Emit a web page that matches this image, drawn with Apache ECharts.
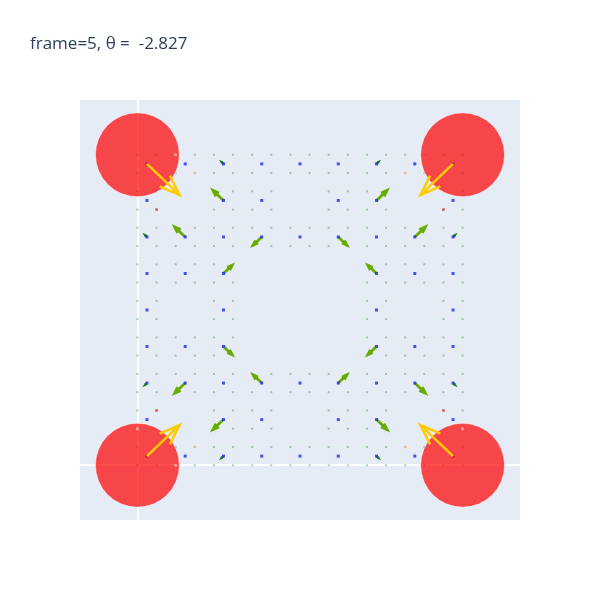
<!DOCTYPE html>
<html><head><meta charset="utf-8">
<script src="https://cdn.jsdelivr.net/npm/echarts@6/dist/echarts.min.js"></script>
<style>html,body{margin:0;padding:0;background:#fff}#c{width:600px;height:600px}</style>
</head><body><div id="c"></div>
<script>
// ---------- data ----------
const titleText = 'frame=5, θ =  -2.827';
const xRange = [-3, 20];
const yRange = [-3, 20];

// lattice atoms (integer sites): row y values and the x values present in each row
const atomRowY = [17, 16, 15, 14, 13, 12, 11, 10, 9, 8, 7, 6, 5, 4, 3, 2, 1, 0];
const atomRowX = [
  [0,1,2,3,4,5,6,7,8,9,10,11,12,13,14,15,16,17],
  [0,1,2,3,4,5,6,7,8,9,10,11,12,13,14,15,16,17],
  [0,1,4,5,6,7,10,11,12,13,16,17],
  [0,1,4,5,6,7,10,11,12,13,16,17],
  [0,1,2,3,4,5,6,7,8,9,10,11,12,13,14,15,16,17],
  [0,1,2,3,4,5,6,7,8,9,10,11,12,13,14,15,16,17],
  [0,1,2,3,4,5,12,13,14,15,16,17],
  [0,1,2,3,4,5,12,13,14,15,16,17],
  [0,1,4,5,12,13,16,17],
  [0,1,4,5,12,13,16,17],
  [0,1,2,3,4,5,12,13,14,15,16,17],
  [0,1,2,3,4,5,12,13,14,15,16,17],
  [0,1,2,3,4,5,6,7,8,9,10,11,12,13,14,15,16,17],
  [0,1,2,3,4,5,6,7,8,9,10,11,12,13,14,15,16,17],
  [0,1,4,5,6,7,10,11,12,13,16,17],
  [0,1,4,5,6,7,10,11,12,13,16,17],
  [0,1,2,3,4,5,6,7,8,9,10,11,12,13,14,15,16,17],
  [0,1,2,3,4,5,6,7,8,9,10,11,12,13,14,15,16,17]
];

// cell-centre sites (blue)
const siteRowY = [16.5, 14.5, 12.5, 10.5, 8.5, 6.5, 4.5, 2.5, 0.5];
const siteRowX = [
  [0.5,2.5,4.5,6.5,8.5,10.5,12.5,14.5,16.5],
  [0.5,4.5,6.5,10.5,12.5,16.5],
  [0.5,2.5,4.5,6.5,8.5,10.5,12.5,14.5,16.5],
  [0.5,2.5,4.5,12.5,14.5,16.5],
  [0.5,4.5,12.5,16.5],
  [0.5,2.5,4.5,12.5,14.5,16.5],
  [0.5,2.5,4.5,6.5,8.5,10.5,12.5,14.5,16.5],
  [0.5,4.5,6.5,10.5,12.5,16.5],
  [0.5,2.5,4.5,6.5,8.5,10.5,12.5,14.5,16.5]
];

// specially coloured atoms
const redAtoms = [[1,14],[16,14],[1,3],[16,3]];
const pinkAtoms = [[3,16],[14,16],[3,1],[14,1]];
const paleAtoms = [[2,17],[0,2],[2,0],[17,2]];

// displacement arrows [x, y, u, v]
const bigArrows = [
  [4.5,14.5,-0.55,0.55],[2.5,12.5,-0.55,0.55],[6.5,12.5,-0.45,-0.45],[4.5,10.5,0.45,0.45],
  [12.5,14.5,0.55,0.55],[14.5,12.5,0.55,0.55],[10.5,12.5,0.45,-0.45],[12.5,10.5,-0.45,0.45],
  [4.5,2.5,-0.55,-0.55],[2.5,4.5,-0.55,-0.55],[6.5,4.5,-0.45,0.45],[4.5,6.5,0.45,-0.45],
  [12.5,2.5,0.55,-0.55],[14.5,4.5,0.55,-0.55],[10.5,4.5,0.45,0.45],[12.5,6.5,-0.45,-0.45]
];
const smallArrows = [
  [4.5,16.5,-0.11,0.11],[0.5,12.5,-0.11,0.11],
  [12.5,16.5,0.11,0.11],[16.5,12.5,0.11,0.11],
  [4.5,0.5,-0.11,-0.11],[0.5,4.5,-0.11,-0.11],
  [12.5,0.5,0.11,-0.11],[16.5,4.5,0.11,-0.11]
];

// probes (red discs) and force arrows (yellow)
const probeX = [0, 17, 0, 17];
const probeY = [17, 17, 0, 0];
const forceArrows = [
  [0.5,16.5,1.7,-1.7],[16.5,16.5,-1.7,-1.7],[0.5,0.5,1.7,1.7],[16.5,0.5,-1.7,1.7]
];

// ---------- build ----------
const atomData = [];
atomRowY.forEach((y, r) => atomRowX[r].forEach(x => atomData.push([x, y])));
const siteData = [];
siteRowY.forEach((y, r) => siteRowX[r].forEach(x => siteData.push([x, y])));
const probeData = probeX.map((x, i) => [x, probeY[i]]);

function arrowRender(color, width, barbRatio) {
  return function (params, api) {
    const x = api.value(0), y = api.value(1), u = api.value(2), v = api.value(3);
    const p0 = api.coord([x, y]);
    const p1 = api.coord([x + u, y + v]);
    const dx = p1[0] - p0[0], dy = p1[1] - p0[1];
    const len = Math.hypot(dx, dy);
    const ang = Math.atan2(dy, dx);
    const bl = len * barbRatio, a = Math.PI / 9;
    const b1 = [p1[0] - bl * Math.cos(ang - a), p1[1] - bl * Math.sin(ang - a)];
    const b2 = [p1[0] - bl * Math.cos(ang + a), p1[1] - bl * Math.sin(ang + a)];
    return {
      type: 'group',
      children: [
        { type: 'polyline', shape: { points: [p0, p1] }, style: { stroke: color, lineWidth: width, fill: null } },
        { type: 'polyline', shape: { points: [b1, p1, b2] }, style: { stroke: color, lineWidth: width, fill: null } }
      ]
    };
  };
}

const axisCommon = {
  type: 'value',
  axisTick: { show: false },
  axisLabel: { show: false },
  splitLine: { show: false },
  axisLine: { show: true, onZero: true, lineStyle: { color: '#ffffff', width: 2 } }
};

const chart = echarts.init(document.getElementById('c'), null, { renderer: 'canvas' });
chart.setOption({
  animation: false,
  backgroundColor: '#ffffff',
  title: {
    text: titleText, left: 30, top: 36, padding: 0,
    textStyle: { fontFamily: 'Open Sans', fontSize: 17, fontWeight: 'normal', color: '#2a3f5f' }
  },
  grid: { left: 80, top: 100, width: 440, height: 420, show: true, backgroundColor: '#E5ECF6', borderWidth: 0 },
  xAxis: Object.assign({ min: xRange[0], max: xRange[1] }, axisCommon),
  yAxis: Object.assign({ min: yRange[0], max: yRange[1] }, axisCommon),
  series: [
    { type: 'scatter', data: atomData, symbol: 'rect', symbolSize: 2, z: 2, silent: true,
      itemStyle: { color: 'rgba(40,145,40,0.5)' } },
    { type: 'scatter', data: redAtoms, symbol: 'rect', symbolSize: 2.5, z: 3, silent: true,
      itemStyle: { color: '#e8382a' } },
    { type: 'scatter', data: pinkAtoms, symbol: 'rect', symbolSize: 2.5, z: 3, silent: true,
      itemStyle: { color: '#f4b49c' } },
    { type: 'custom', data: bigArrows, z: 4, silent: true, encode: { x: 0, y: 1 },
      renderItem: arrowRender('rgb(104,172,0)', 2.8, 0.45) },
    { type: 'custom', data: smallArrows, z: 4, silent: true, encode: { x: 0, y: 1 },
      renderItem: arrowRender('rgb(30,130,30)', 2.2, 0.5) },
    { type: 'scatter', data: siteData, symbol: 'rect', symbolSize: 3, z: 5, silent: true,
      itemStyle: { color: '#1a2cf0' } },
    { type: 'scatter', data: probeData, symbol: 'circle', symbolSize: 84, z: 6, silent: true,
      itemStyle: { color: 'red', opacity: 0.7, borderColor: '#ffffff', borderWidth: 0.8 } },
    { type: 'scatter', data: paleAtoms, symbol: 'circle', symbolSize: 3, z: 7, silent: true,
      itemStyle: { color: 'rgba(255,215,215,0.9)' } },
    { type: 'custom', data: forceArrows, z: 8, silent: true, encode: { x: 0, y: 1 },
      renderItem: arrowRender('#ffcc00', 2.5, 0.48) }
  ]
});
</script>
</body></html>
